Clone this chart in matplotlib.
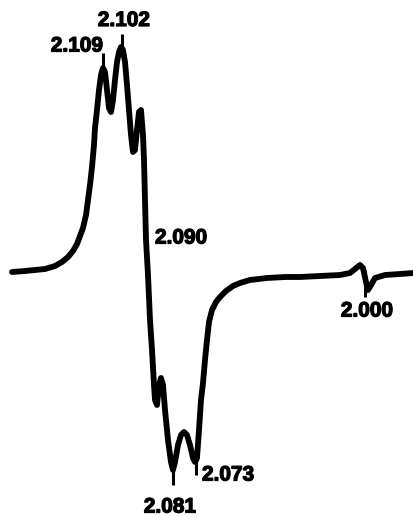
import numpy as np
import matplotlib.pyplot as plt
import matplotlib.patheffects as pe

# EPR derivative trace (field in arbitrary units, signal in arbitrary units)
field = np.array([12, 25, 35, 45, 55, 62, 68, 73, 77, 80, 83, 86, 88, 90, 92, 94, 95, 97, 99, 101,
                  103, 105, 107, 109, 111, 113, 115, 117, 119, 121, 123, 125, 127, 129, 131, 133,
                  135, 137, 139, 141, 143, 144, 145, 146, 148, 150, 152, 154, 155, 157, 159, 161,
                  163, 165, 168, 171, 173, 175, 178, 181, 184, 187, 190, 193, 195, 197, 199, 201,
                  203, 205, 207, 209, 212, 216, 220, 226, 233, 240, 250, 267, 285, 300, 320, 340,
                  350, 355, 360, 363, 366, 368, 371, 375, 385, 400, 413])
signal = np.array([-2, -1, 0, 1, 4, 8, 13, 19, 26, 34, 42, 55, 70, 85, 103, 125, 142, 160, 180, 195,
                   202, 198, 180, 162, 158, 170, 190, 208, 218, 223, 220, 208, 185, 160, 135, 118,
                   120, 140, 158, 160, 135, 110, 70, 30, -5, -50, -80, -115, -130, -135, -115, -108,
                   -115, -140, -170, -192, -200, -192, -175, -165, -162, -165, -175, -188, -192,
                   -188, -160, -130, -113, -90, -70, -52, -40, -32, -27, -21, -16, -13, -10, -8,
                   -7, -7, -6, -5, -3, 1, 5, 2, -12, -20, -15, -8, -5, -4, -3])

# marked lines: g-value, field position, tick direction (+1 up, -1 down)
g_labels = ['2.109', '2.102', '2.081', '2.073', '2.000']
g_field = [103, 122, 173, 196, 365]
g_dir = [1, 1, -1, -1, -1]
g_crossing = '2.090'

fig = plt.figure(figsize=(4.14, 5.17), dpi=100)
ax = fig.add_axes([0, 0, 1, 1])
ax.plot(field, signal, color='black', lw=4.2, solid_joinstyle='round', solid_capstyle='round')

font = dict(family='Liberation Sans', fontweight='bold', fontsize=15, color='black',
            path_effects=[pe.withStroke(linewidth=0.9, foreground='black')])
# label offsets from the tick end: dx, dy, alignment
offsets = {'2.109': (-26, 7, 'center'), '2.102': (2, 13, 'center'),
           '2.081': (-3, -22, 'center'), '2.073': (6, 0, 'left'),
           '2.000': (2, -14, 'center')}
for lab, x, d in zip(g_labels, g_field, g_dir):
    y0 = np.interp(x, field, signal)
    length = 15
    if lab == '2.000':
        y0, length = 0, 27
    y1 = y0 + d * length
    ax.plot([x, x], [y0, y1], color='black', lw=2.2, solid_capstyle='butt')
    dx, dy, ha = offsets[lab]
    ax.text(x + dx, y1 + dy, lab, ha=ha, va='center', **font)

ax.text(155, 32, g_crossing, ha='left', va='center', **font)

ax.set_xlim(0, 414)
ax.set_ylim(-247, 270)
ax.axis('off')
fig.savefig('out.png', dpi=100)
